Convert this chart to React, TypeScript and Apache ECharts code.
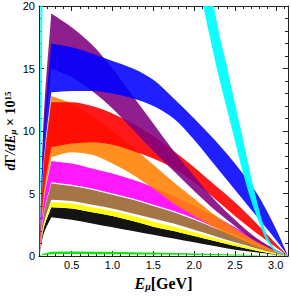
import React, { useEffect, useRef } from 'react';
import * as echarts from 'echarts';

const XMIN = 0.1;
const XMAX = 3.15;

// sample energies (GeV); index 2 is the sharp peak of every band
const X = [0.105, 0.15, 0.25, 0.5, 0.75, 1.0, 1.25, 1.5, 1.75, 2.0, 2.25, 2.5, 2.75, 3.0, 3.15];
const PEAK = 2;

const blackLow = [0, 1.6, 3.1, 2.9, 2.6, 2.3, 2.0, 1.7, 1.4, 1.1, 0.8, 0.5, 0.3, 0.1, 0];
const blackUp = [0, 2.0, 3.9, 3.8, 3.5, 3.2, 2.8, 2.35, 2.0, 1.6, 1.2, 0.8, 0.45, 0.15, 0];
const yellowLow = [0, 2.0, 3.9, 3.8, 3.5, 3.2, 2.8, 2.35, 2.0, 1.6, 1.2, 0.8, 0.45, 0.15, 0];
const yellowUp = [0, 2.2, 4.3, 4.2, 3.9, 3.6, 3.2, 2.75, 2.35, 1.9, 1.45, 1.0, 0.6, 0.2, 0];
const brownLow = [0, 2.3, 4.5, 4.4, 4.1, 3.8, 3.4, 3.0, 2.6, 2.1, 1.6, 1.1, 0.65, 0.22, 0];
const brownUp = [0, 3.0, 5.8, 5.6, 5.3, 4.9, 4.5, 4.0, 3.5, 2.9, 2.25, 1.6, 0.95, 0.33, 0];
const magentaLow = [0, 3.1, 5.9, 5.7, 5.4, 5.0, 4.6, 4.1, 3.6, 3.0, 2.3, 1.7, 1.0, 0.35, 0];
const magentaUp = [0, 4.0, 7.6, 7.4, 7.0, 6.6, 6.1, 5.5, 4.8, 4.0, 3.2, 2.3, 1.4, 0.5, 0];
const orangeLow = [0, 4.1, 7.9, 8.3, 8.1, 7.4, 6.5, 5.4, 4.2, 3.2, 2.3, 1.5, 0.8, 0.25, 0];
const orangeUp = [0, 6.6, 12.8, 12.2, 11.2, 10.0, 8.7, 7.3, 5.9, 4.6, 3.3, 2.2, 1.2, 0.4, 0];
const redLow = [0, 4.5, 8.7, 9.0, 9.1, 8.9, 8.4, 7.8, 7.0, 5.9, 4.6, 3.2, 1.9, 0.7, 0];
const redUp = [0, 6.4, 12.3, 12.3, 12.0, 11.4, 10.6, 9.6, 8.4, 7.1, 5.7, 4.3, 2.7, 1.0, 0];
const purpleLow = [0, 7.8, 15.0, 14.3, 13.2, 11.8, 10.1, 8.4, 6.8, 5.2, 3.7, 2.4, 1.2, 0.4, 0];
const purpleUp = [0, 10.0, 19.4, 18.3, 16.9, 15.0, 12.8, 10.6, 8.4, 6.4, 4.5, 2.9, 1.5, 0.5, 0];
const blueLow = [0, 6.8, 13.1, 13.2, 13.2, 13.0, 12.6, 12.0, 11.0, 9.3, 7.3, 5.3, 3.3, 1.3, 0];
const blueUp = [0, 8.8, 17.0, 16.7, 16.2, 15.6, 15.0, 14.1, 12.6, 11.0, 9.3, 7.4, 5.2, 2.2, 0];
const greenLow = [0, 0.08, 0.15, 0.16, 0.15, 0.14, 0.13, 0.12, 0.1, 0.09, 0.07, 0.05, 0.03, 0.01, 0];
const greenUp = [0, 0.18, 0.35, 0.36, 0.35, 0.33, 0.31, 0.28, 0.25, 0.21, 0.17, 0.12, 0.07, 0.03, 0];

// cyan band rises off the chart near the left edge and returns around 2.2 GeV
const CX = [0.105, 0.12, 0.14, 0.16, 0.5, 1.5, 2.0, 2.1, 2.2, 2.3, 2.4, 2.5, 2.6, 2.7, 2.8, 2.9, 3.0, 3.15];
const cyanLow = [0, 6, 18, 30, 70, 45, 23, 20.3, 17.3, 14.4, 11.8, 9.2, 6.6, 4.4, 2.6, 1.1, 0.35, 0];
const cyanUp = [0, 25, 60, 80, 95, 60, 30, 25.5, 21.5, 18.0, 15.2, 12.2, 9.3, 6.3, 3.6, 1.5, 0.5, 0];

const X_MAJOR = [0.5, 1.0, 1.5, 2.0, 2.5, 3.0];
const X_MINOR = [0.2, 0.3, 0.4, 0.6, 0.7, 0.8, 0.9, 1.1, 1.2, 1.3, 1.4, 1.6, 1.7, 1.8, 1.9, 2.1, 2.2, 2.3, 2.4, 2.6, 2.7, 2.8, 2.9, 3.1];
const Y_MAJOR = [0, 5, 10, 15, 20];
const Y_MINOR = [1, 2, 3, 4, 6, 7, 8, 9, 11, 12, 13, 14, 16, 17, 18, 19];

const AX = '#222';
const SERIF = "'Liberation Serif', 'DejaVu Serif', serif";
const SANS = "'Liberation Sans', Arial, sans-serif";

type Seg = { p0: number[]; c1: number[]; c2: number[]; p1: number[] };

// monotone cubic pieces through pixel points (x increasing)
function monoSegs(p: number[][]): Seg[] {
  const n = p.length;
  if (n < 2) return [];
  const h: number[] = [];
  const d: number[] = [];
  for (let i = 0; i < n - 1; i++) {
    h[i] = p[i + 1][0] - p[i][0] || 1e-6;
    d[i] = (p[i + 1][1] - p[i][1]) / h[i];
  }
  const t: number[] = new Array(n);
  t[0] = d[0];
  t[n - 1] = d[n - 2];
  for (let i = 1; i < n - 1; i++) {
    if (d[i - 1] * d[i] <= 0) t[i] = 0;
    else {
      const w1 = 2 * h[i] + h[i - 1];
      const w2 = h[i] + 2 * h[i - 1];
      t[i] = (w1 + w2) / (w1 / d[i - 1] + w2 / d[i]);
    }
  }
  const segs: Seg[] = [];
  for (let i = 0; i < n - 1; i++) {
    const k = h[i] / 3;
    segs.push({
      p0: p[i],
      c1: [p[i][0] + k, p[i][1] + t[i] * k],
      c2: [p[i + 1][0] - k, p[i + 1][1] - t[i + 1] * k],
      p1: p[i + 1],
    });
  }
  return segs;
}

function curveSegs(p: number[][], peak: number): Seg[] {
  if (peak <= 0) return monoSegs(p);
  return [...monoSegs(p.slice(0, peak + 1)), ...monoSegs(p.slice(peak))];
}

const f = (v: number) => v.toFixed(2);

function bandPath(up: number[][], lo: number[][], peak: number) {
  const su = curveSegs(up, peak);
  const sl = curveSegs(lo, peak);
  let d = `M${f(up[0][0])},${f(up[0][1])}`;
  su.forEach((s) => {
    d += `C${f(s.c1[0])},${f(s.c1[1])} ${f(s.c2[0])},${f(s.c2[1])} ${f(s.p1[0])},${f(s.p1[1])}`;
  });
  const last = lo[lo.length - 1];
  d += `L${f(last[0])},${f(last[1])}`;
  for (let i = sl.length - 1; i >= 0; i--) {
    const s = sl[i];
    d += `C${f(s.c2[0])},${f(s.c2[1])} ${f(s.c1[0])},${f(s.c1[1])} ${f(s.p0[0])},${f(s.p0[1])}`;
  }
  return d + 'Z';
}

function band(name: string, xs: number[], low: number[], up: number[], color: string, peak: number) {
  return {
    name,
    type: 'custom',
    coordinateSystem: 'cartesian2d',
    xAxisIndex: 0,
    yAxisIndex: 0,
    clip: true,
    silent: true,
    data: [[xs[0], 0]],
    renderItem: (_params: any, api: any) => {
      const pu = xs.map((x, i) => api.coord([x, up[i]]));
      const pl = xs.map((x, i) => api.coord([x, low[i]]));
      return {
        type: 'path',
        shape: { pathData: bandPath(pu, pl, peak) },
        style: { fill: color, stroke: null },
      };
    },
  };
}

function xAx(position: 'bottom' | 'top', values: number[], len: number, labels: boolean, line: boolean, extra: any = {}) {
  return {
    type: 'value', min: XMIN, max: XMAX, position,
    axisLine: { show: line, onZero: false, lineStyle: { color: AX, width: 1 } },
    axisTick: { show: true, inside: true, length: len, customValues: values, lineStyle: { color: AX, width: 1 } },
    axisLabel: labels
      ? { show: true, customValues: values, formatter: (v: number) => v.toFixed(1), margin: 3, fontSize: 11, fontFamily: SANS, color: '#000' }
      : { show: false },
    splitLine: { show: false },
    ...extra,
  };
}

function yAx(position: 'left' | 'right', values: number[], len: number, labels: boolean, line: boolean, extra: any = {}) {
  return {
    type: 'value', min: 0, max: 20, position,
    axisLine: { show: line, onZero: false, lineStyle: { color: AX, width: 1 } },
    axisTick: { show: true, inside: true, length: len, customValues: values, lineStyle: { color: AX, width: 1 } },
    axisLabel: labels
      ? { show: true, customValues: values, margin: 4, fontSize: 11, fontFamily: SANS, color: '#000' }
      : { show: false },
    splitLine: { show: false },
    ...extra,
  };
}

export default function App() {
  const ref = useRef<HTMLDivElement>(null);
  useEffect(() => {
    if (!ref.current) return;
    const chart = echarts.init(ref.current, undefined, { renderer: 'svg' });
    const series: any[] = [
      band('black', X, blackLow, blackUp, 'rgba(0,0,0,0.92)', PEAK),
      band('yellow', X, yellowLow, yellowUp, 'rgba(255,255,0,0.95)', PEAK),
      band('brown', X, brownLow, brownUp, 'rgba(153,102,51,0.9)', PEAK),
      band('magenta', X, magentaLow, magentaUp, 'rgba(255,0,255,0.9)', PEAK),
      band('orange', X, orangeLow, orangeUp, 'rgba(255,128,0,0.88)', PEAK),
      band('red', X, redLow, redUp, 'rgba(255,0,0,0.9)', PEAK),
      band('purple', X, purpleLow, purpleUp, 'rgba(128,0,128,0.88)', PEAK),
      band('blue', X, blueLow, blueUp, 'rgba(0,0,255,0.88)', PEAK),
      band('green', X, greenLow, greenUp, 'rgba(0,230,0,0.95)', PEAK),
      band('cyan', CX, cyanLow, cyanUp, 'rgba(0,255,255,0.95)', -1),
    ];
    const xName = '{i|E}{s|μ}{r|[GeV]}';
    const yName = '{i|d}{r|Γ}{i|/dE}{s|μ}{r| × 10}{p|15}';
    const xRich = {
      i: { fontFamily: SERIF, fontStyle: 'italic', fontWeight: 'bold', fontSize: 16, color: '#000', lineHeight: 16 },
      r: { fontFamily: SERIF, fontWeight: 'bold', fontSize: 16, color: '#000', lineHeight: 16 },
      s: { fontFamily: SERIF, fontStyle: 'italic', fontWeight: 'bold', fontSize: 10, color: '#000', lineHeight: 8, verticalAlign: 'bottom' },
    };
    const yRich = {
      i: { fontFamily: SERIF, fontStyle: 'italic', fontWeight: 'bold', fontSize: 14, color: '#000', lineHeight: 14 },
      r: { fontFamily: SERIF, fontWeight: 'bold', fontSize: 14, color: '#000', lineHeight: 14 },
      s: { fontFamily: SERIF, fontStyle: 'italic', fontWeight: 'bold', fontSize: 9, color: '#000', lineHeight: 7, verticalAlign: 'bottom' },
      p: { fontFamily: SERIF, fontWeight: 'bold', fontSize: 9, color: '#000', lineHeight: 7, verticalAlign: 'top' },
    };
    chart.setOption({
      animation: false,
      backgroundColor: '#fff',
      grid: { left: 39, right: 3, top: 6, bottom: 40, containLabel: false, outerBoundsMode: 'none' },
      xAxis: [
        xAx('bottom', X_MAJOR, 5, true, true, {
          name: xName, nameLocation: 'middle', nameGap: 19, nameTextStyle: { rich: xRich },
        }),
        xAx('bottom', X_MINOR, 3, false, false),
        xAx('top', X_MAJOR, 5, false, true),
        xAx('top', X_MINOR, 3, false, false),
      ],
      yAxis: [
        yAx('left', Y_MAJOR, 5, true, true, {
          name: yName, nameLocation: 'middle', nameRotate: 90, nameGap: 22, nameMoveOverlap: false, nameTextStyle: { rich: yRich },
        }),
        yAx('left', Y_MINOR, 3, false, false),
        yAx('right', Y_MAJOR, 5, false, true),
        yAx('right', Y_MINOR, 3, false, false),
      ],
      series,
    });
    return () => chart.dispose();
  }, []);
  return <div ref={ref} style={{ position: 'fixed', left: 0, top: 0, width: 291, height: 296 }} />;
}
